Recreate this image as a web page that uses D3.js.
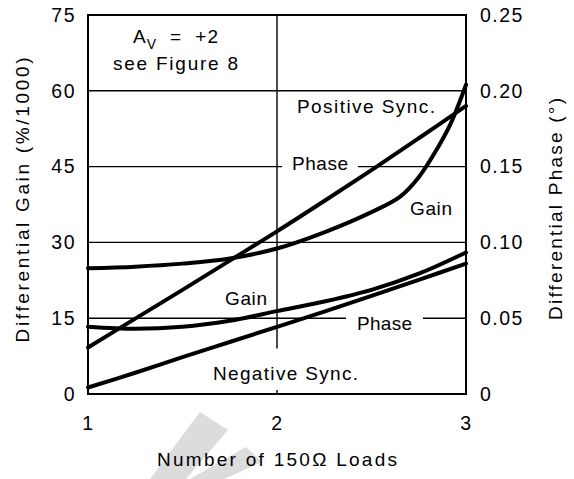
<!DOCTYPE html>
<html>
<head>
<meta charset="utf-8">
<style>
  body { margin: 0; background: #fff; }
  svg text { font-family: "Liberation Sans", Arial, sans-serif; fill: #000; }
  .tick text { font-size: 19.5px; letter-spacing: 1.5px; }
  .note { font-size: 19px; }
</style>
</head>
<body>
<svg id="chart" width="574" height="479"></svg>
<script src="https://d3js.org/d3.v7.min.js"></script>
<script>
// data
var loads = [1, 1.25, 1.5, 1.75, 2, 2.25, 2.5, 2.75, 3];
var posGainLoads = [1, 1.25, 1.5, 1.75, 2, 2.25, 2.5, 2.65, 2.75, 2.85, 2.92, 3];
var posGain = [24.9, 25.2, 25.8, 26.8, 28.8, 32.0, 36.0, 39.0, 42.9, 48.7, 53.6, 61.2];   // %/1000
var posPhase = [0.0307, 0.0497, 0.0687, 0.088, 0.1073, 0.1273, 0.1477, 0.1687, 0.19];    // deg
var negGain = [13.3, 12.9, 13.3, 14.5, 16.4, 18.3, 20.6, 23.8, 28.0];                   // %/1000
var negPhase = [0.0043, 0.014, 0.0243, 0.0343, 0.0443, 0.0543, 0.0647, 0.0753, 0.086];   // deg

var xTicks = [1, 2, 3];
var gainTicks = [0, 15, 30, 45, 60, 75];
var phaseTicks = [0, 0.05, 0.10, 0.15, 0.20, 0.25];
var phaseLabels = ["0", "0.05", "0.10", "0.15", "0.20", "0.25"];
var gridGain = [15, 30, 45, 60];

var margin = {top: 15, right: 108, bottom: 85, left: 88};
var width = 574 - margin.left - margin.right,
    height = 479 - margin.top - margin.bottom;

var svg = d3.select('#chart');

// faint watermark behind the x title
svg.append('polygon').attr('points', '150,479 200,412 228,430 186,479').attr('fill', '#dcdcdc');
svg.append('polygon').attr('points', '190,479 246,447 262,462 224,479').attr('fill', '#dcdcdc');

var g = svg.append('g').attr('transform', 'translate(' + margin.left + ',' + margin.top + ')');

var x = d3.scaleLinear().domain([1, 3]).range([0, width]);
var yGain = d3.scaleLinear().domain([0, 75]).range([height, 0]);
var yPhase = d3.scaleLinear().domain([0, 0.25]).range([height, 0]);

// grid
g.selectAll('.hgrid').data(gridGain).enter().append('line')
  .attr('x1', 0).attr('x2', width)
  .attr('y1', function(d){ return yGain(d); }).attr('y2', function(d){ return yGain(d); })
  .attr('stroke', '#000').attr('stroke-width', 1.4);

g.append('line')
  .attr('x1', x(2)).attr('x2', x(2))
  .attr('y1', yGain(75)).attr('y2', yGain(9))
  .attr('stroke', '#000').attr('stroke-width', 1.4);
g.append('line')
  .attr('x1', x(2)).attr('x2', x(2))
  .attr('y1', height - 4).attr('y2', height)
  .attr('stroke', '#000').attr('stroke-width', 1.4);

// labels that cut the grid lines
var masks = g.append('g');
var notes = g.append('g');

function note(txt, px, py, len) {
  return notes.append('text').attr('class', 'note')
    .attr('x', px - margin.left).attr('y', py - margin.top)
    .attr('textLength', len).attr('lengthAdjust', 'spacing')
    .text(txt);
}
function cut(t, padX) {
  var b = t.node().getBBox();
  masks.append('rect')
    .attr('x', b.x - padX).attr('y', b.y)
    .attr('width', b.width + 2 * padX).attr('height', b.height)
    .attr('fill', '#fff');
}

note('Positive Sync.', 297, 113, 138);
cut(note('Phase', 292, 170, 56), 10);
note('Gain', 410, 215, 42);
note('Gain', 225, 305, 42);
cut(note('Phase', 357, 330, 55), 11);
note('Negative Sync.', 213, 380, 145);

// A_V = +2 box text
var av = notes.append('text').attr('class', 'note')
  .attr('x', 133 - margin.left).attr('y', 43 - margin.top)
  .attr('textLength', 85).attr('lengthAdjust', 'spacing');
av.append('tspan').text('A');
av.append('tspan').attr('dy', 6).attr('font-size', 14).text('V');
av.append('tspan').attr('dy', -6).attr('xml:space', 'preserve').text('  =  +2');
note('see Figure 8', 113, 70, 125);

// curves
var line = d3.line().curve(d3.curveCatmullRom.alpha(0.5));

function drawCurve(xs, ys, yScale) {
  g.append('path')
    .attr('d', line(xs.map(function(d, i){ return [x(d), yScale(ys[i])]; })))
    .attr('fill', 'none').attr('stroke', '#000').attr('stroke-width', 4)
    .attr('stroke-linecap', 'round');
}
drawCurve(posGainLoads, posGain, yGain);
drawCurve(loads, posPhase, yPhase);
drawCurve(loads, negGain, yGain);
drawCurve(loads, negPhase, yPhase);

// frame
g.append('rect').attr('width', width).attr('height', height)
  .attr('fill', 'none').attr('stroke', '#000').attr('stroke-width', 2);

// axes
var ax = g.append('g').attr('transform', 'translate(0,' + height + ')')
  .call(d3.axisBottom(x).tickValues(xTicks).tickFormat(d3.format('d')).tickSize(0).tickPadding(22));
var al = g.append('g')
  .call(d3.axisLeft(yGain).tickValues(gainTicks).tickSize(0).tickPadding(12));
var ar = g.append('g').attr('transform', 'translate(' + width + ',0)')
  .call(d3.axisRight(yPhase).tickValues(phaseTicks).tickFormat(function(d, i){ return phaseLabels[i]; })
    .tickSize(0).tickPadding(14));
[ax, al, ar].forEach(function(a){
  a.select('.domain').remove();
  a.selectAll('text').attr('font-family', null).attr('font-size', null);
});

// titles
svg.append('text').attr('class', 'note')
  .attr('x', 277).attr('y', 466).attr('text-anchor', 'middle')
  .attr('textLength', 240).attr('lengthAdjust', 'spacing')
  .text('Number of 150\u03A9 Loads');

svg.append('text').attr('class', 'note')
  .attr('transform', 'translate(29,200) rotate(-90)').attr('text-anchor', 'middle')
  .attr('textLength', 285).attr('lengthAdjust', 'spacing')
  .text('Differential Gain (%/1000)');

svg.append('text').attr('class', 'note')
  .attr('transform', 'translate(562,209) rotate(-90)').attr('text-anchor', 'middle')
  .attr('textLength', 222).attr('lengthAdjust', 'spacing')
  .text('Differential Phase (\u00B0)');
</script>
</body>
</html>
